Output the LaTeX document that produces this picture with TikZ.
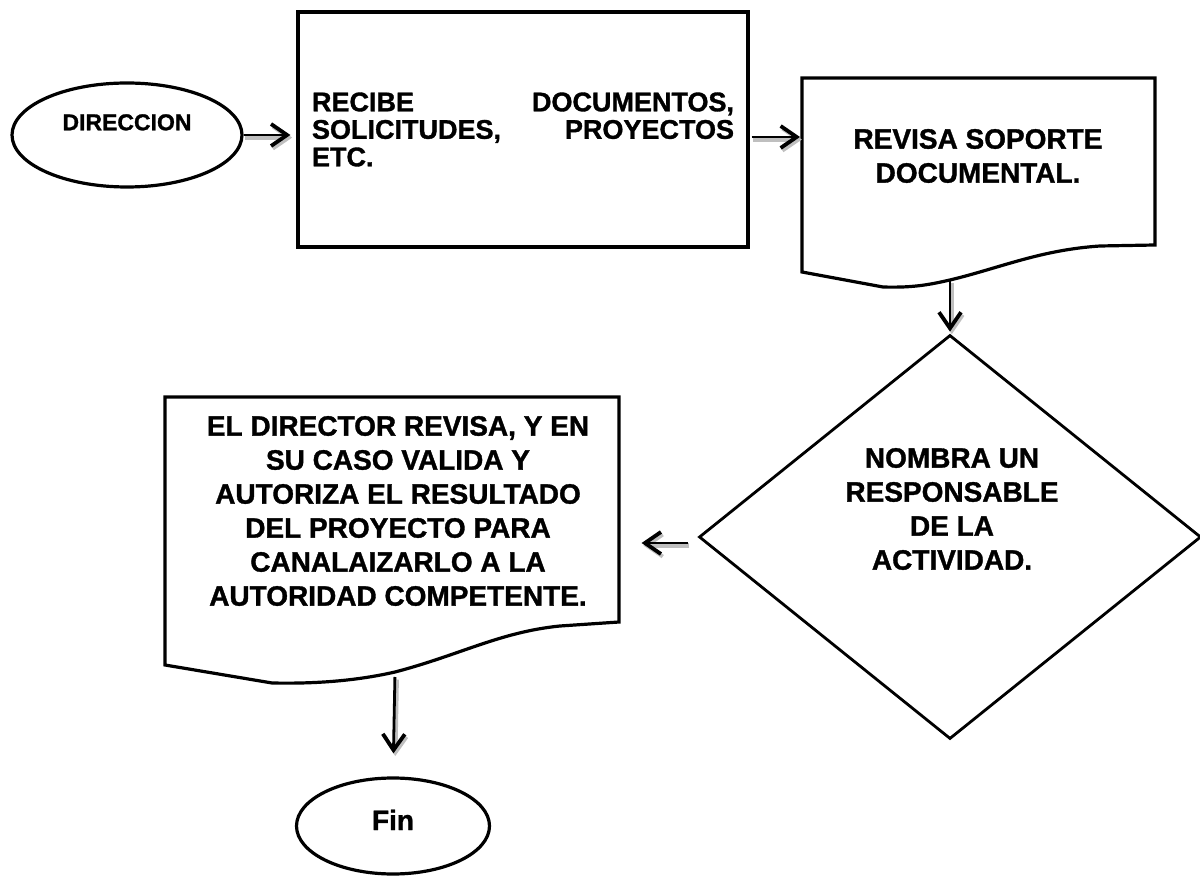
\documentclass[tikz,border=0pt]{standalone}
\usepackage{fontspec}
\setmainfont{Liberation Sans}[BoldFeatures={FakeBold=1.2}]
\usepackage{tikz}
\usetikzlibrary{shapes.geometric,arrows.meta,calc,positioning}
\hyphenpenalty=10000
\exhyphenpenalty=10000

\begin{document}
\begin{tikzpicture}[
      x=0.5pt, y=-0.5pt,
      linea/.style={draw, line width=1.6pt, line join=miter},
      term/.style={linea, ellipse, inner sep=0pt},
      caja/.style={linea, rectangle, inner sep=0pt},
      decision/.style={linea, diamond, inner sep=0pt, line width=1.4pt},
      texto/.style={align=center, font={\fontsize{14}{17}\selectfont\bfseries}},
      flecha/.style={line width=1.4pt,
        -{Straight Barb[length=8pt,width=11pt,line width=1.9pt]},
        preaction={draw=gray!50, line width=2.2pt,
          transform canvas={shift={(0.9pt,-1.3pt)}}}}
  ]
  \useasboundingbox (0,0) rectangle (1200,876);

  % inicio
  \node[term, minimum width=115pt, minimum height=52pt,
        font={\fontsize{11.5}{13}\selectfont\bfseries},
        text height=8.3pt, text depth=13pt] (direccion) at (127,135) {DIRECCION};

  \node[caja, minimum width=225pt, minimum height=117.5pt, text width=211pt,
        align=justify, font={\fontsize{13.5}{13.75}\selectfont\bfseries}]
        (recibe) at (523,129.5)
        {RECIBE DOCUMENTOS, SOLICITUDES, PROYECTOS\linebreak ETC.};

  % documento: revisa
  \draw[linea] (883,287) -- (802,272) -- (802,78) -- (1155,78) -- (1155,245)
    -- (1100,246) .. controls (1040,250) and (1000,268) .. (950,280) coordinate (revisaS)
    .. controls (932,284) and (915,288) .. (883,287) -- cycle;
  \coordinate (revisaW) at (802,137);
  \node[texto] (revisa) at (978,156) {REVISA SOPORTE\\DOCUMENTAL.};

  % decision
  \node[decision, minimum width=251pt, minimum height=202pt] (nombra) at (950,537) {};
  \node[texto] (nombratxt) at (952,509) {NOMBRA UN\\RESPONSABLE\\DE LA\\ACTIVIDAD.};

  % documento: director
  \draw[linea] (272,683) -- (165,665) -- (165,397) -- (619,397) -- (619,622)
    -- (560,626) .. controls (500,632) and (460,655) .. (395,672) coordinate (directorS)
    .. controls (360,680) and (320,684) .. (272,683) -- cycle;
  \node[texto] (director) at (398,511)
    {EL DIRECTOR REVISA, Y EN\\SU CASO VALIDA Y\\AUTORIZA EL RESULTADO\\DEL PROYECTO PARA\\CANALAIZARLO A LA\\AUTORIDAD COMPETENTE.};

  % fin
  \node[term, minimum width=96.5pt, minimum height=48pt,
        font={\fontsize{14}{17}\selectfont\bfseries},
        text height=10pt, text depth=6pt] (fin) at (393,826) {Fin};

  % flechas
  \coordinate (salida) at ($(nombra.west)+(-10,6)$);
  \coordinate (llegada) at ($(nombra.west)+(-56,6)$);

  \draw[flecha, shorten >=3pt] (direccion) -- (direccion -| recibe.west);
  \draw[flecha, shorten <=1pt, shorten >=1pt] (recibe.east |- revisaW) -- (revisaW);
  \draw[flecha, shorten >=1pt] (revisaS) -- (nombra.north);
  \draw[flecha] (salida) -- (llegada);
  \draw[flecha, shorten <=2.5pt, shorten >=11.5pt] (directorS) -- (fin.north);

\end{tikzpicture}
\end{document}
